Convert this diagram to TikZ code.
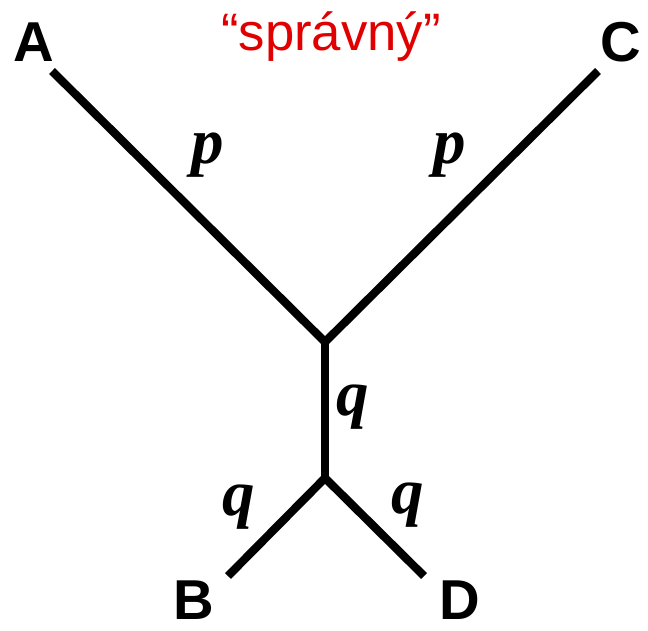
\documentclass[tikz,border=0pt]{standalone}
\usepackage{fontspec}
\setmainfont{Liberation Serif}
\newfontfamily\lblfont{Liberation Sans}
\usetikzlibrary{positioning}

\begin{document}
\begin{tikzpicture}[x=0.02cm, y=-0.02cm,
    leaf/.style={font=\lblfont\bfseries\fontsize{32}{34}\selectfont, inner sep=0pt},
    len/.style={font=\bfseries\itshape\fontsize{37}{39}\selectfont, inner sep=0pt},
    branch/.style={line width=4.7pt}]
    \useasboundingbox (0,0) rectangle (648,630);
    \node [font=\lblfont\fontsize{30}{32}\selectfont, text={rgb,255:red,225;green,0;blue,0}, inner sep=0pt] (title) at (331,37) {“správný”};
    \node [leaf] (A) at (34,42) {A};
    \node [leaf] (C) at (621,42) {C};
    \node [leaf] (B) at (194,600) {B};
    \node [leaf] (D) at (460,600) {D};
    \coordinate (a) at (52,71);
    \coordinate (c) at (598,71);
    \coordinate (b) at (228,576);
    \coordinate (d) at (424,576);
    \coordinate (top) at (325,342);
    \coordinate (bot) at (325,478);
    \draw [branch] (a) -- (top) -- (c);
    \draw [branch] (top) -- (bot);
    \draw [branch] (b) -- (bot) -- (d);
    \node [len] (pA) at (208,155) {p};
    \node [len] (pC) at (450,155) {p};
    \node [len] (qm) at (353,407) {q};
    \node [len] (qB) at (239,507) {q};
    \node [len] (qD) at (408,505) {q};
\end{tikzpicture}
\end{document}
